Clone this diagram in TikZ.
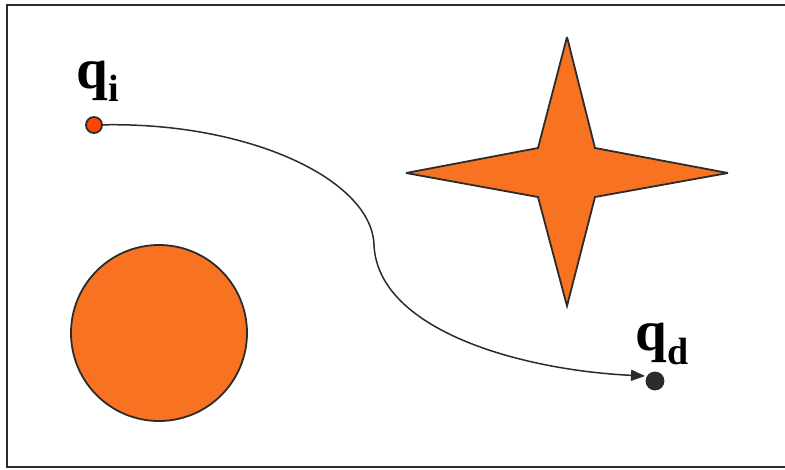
\documentclass[tikz,border=0pt]{standalone}
\usepackage{fontspec}
\setmainfont{Liberation Serif}
\usepackage{tikz}
\usetikzlibrary{positioning,arrows.meta}
\definecolor{obst}{HTML}{F77321}
\definecolor{start}{HTML}{FF4500}
\definecolor{ink}{HTML}{2B2B2B}

\begin{document}
\begin{tikzpicture}[x=1pt, y=-1pt, >={Triangle[length=14pt,width=11pt]},
  obstacle/.style={fill=obst, draw=ink, line width=1.8pt, miter limit=4},
  dot/.style={circle, draw=ink, line width=1.8pt, inner sep=0pt},
  lbl/.style={inner sep=0pt, font=\fontsize{57}{57}\selectfont\bfseries}]
\useasboundingbox (0,0) rectangle (785,469);
% Frame
\draw[ink, line width=2.5pt] (785,5) -- (7,5) -- (7,467) -- (785,467);
% Obstacles
\draw[obstacle] (159,333) circle (88);
\draw[obstacle] (567,37) -- (595,148) -- (728,173) -- (595,197) -- (567,306)
  -- (538,197) -- (406,173) -- (538,148) -- cycle;
% Start and goal
\node[dot, fill=start, minimum size=16pt] (qi) at (94,125) {};
\node[dot, fill=ink, minimum size=17pt] (qd) at (655,381) {};
\node[lbl, above=14pt of qi, xshift=4pt] (qilbl) {q\raisebox{-0.23em}{\fontsize{38}{38}\selectfont i}};
\node[lbl, above=7pt of qd, xshift=7pt] (qdlbl) {q\raisebox{-0.23em}{\fontsize{38}{38}\selectfont d}};
% Path
\coordinate (qdend) at (645,376);
\draw[->, ink, line width=1.5pt] (qi) .. controls (250,122) and (372,180) .. (374,245)
  .. controls (378,330) and (520,370) .. (qdend);
\end{tikzpicture}
\end{document}
